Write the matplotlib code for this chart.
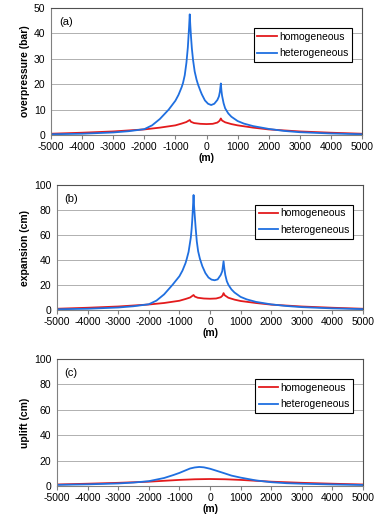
import numpy as np
import matplotlib
matplotlib.use("Agg")
import matplotlib.pyplot as plt

plt.rcParams["font.family"] = ["Liberation Sans", "DejaVu Sans"]
plt.rcParams["font.size"] = 7.5
plt.rcParams["axes.unicode_minus"] = False

# (a) overpressure (bar)
x_a = [-5000, -4000, -3000, -2500, -2000, -1750, -1500, -1216, -1000, -900, -800, -755, -700, -645,
       -600, -580, -560, -539, -520, -497, -470, -432, -380, -320, -270, -200, -150, -50, 50, 150,
       250, 350, 400, 430, 461, 480, 500, 550, 600, 700, 800, 1000, 1200, 1500, 2000, 2500, 3000,
       4000, 5000]
het_a = [0.3, 0.5, 1.0, 1.5, 2.3, 3.8, 6.3, 10.0, 13.5, 15.8, 18.8, 20.5, 23.5, 28.5,
         34.5, 38.5, 42.5, 47.5, 43.0, 38.5, 34.0, 29.5, 25.0, 21.8, 19.8, 17.5, 16.0, 13.6, 12.3, 11.8,
         12.3, 13.8, 15.2, 17.0, 20.3, 17.5, 15.5, 12.5, 10.5, 8.5, 7.2, 5.5, 4.5, 3.5, 2.4, 1.6, 1.1,
         0.6, 0.3]
xh_a = [-5000, -4000, -3000, -2000, -1500, -1000, -800, -650, -539, -500, -400, -200, 0, 200,
        350, 420, 461, 500, 600, 800, 1000, 1500, 2000, 3000, 4000, 5000]
hom_a = [0.5, 0.9, 1.4, 2.2, 2.9, 3.8, 4.5, 5.1, 5.9, 5.2, 4.7, 4.4, 4.3, 4.4,
         4.9, 5.6, 6.5, 5.7, 5.0, 4.3, 3.8, 2.9, 2.2, 1.4, 0.9, 0.5]

# (b) expansion (cm)
x_b = [-5000, -4000, -3000, -2500, -2000, -1750, -1500, -1230, -1000, -900, -800, -764, -700, -627,
       -600, -580, -560, -537, -520, -497, -470, -432, -388, -330, -250, -150, -50, 50, 152, 250,
       350, 400, 443, 470, 500, 550, 605, 700, 800, 1000, 1200, 1500, 2000, 2500, 3000, 4000, 5000]
het_b = [0.6, 1.0, 2.0, 3.0, 4.6, 7.5, 12.5, 20.0, 27.0, 31.5, 37.5, 40.5, 46.5, 58.0,
         65.0, 72.0, 81.0, 92.0, 83.0, 75.0, 66.0, 55.0, 47.0, 41.0, 35.0, 29.5, 26.0, 24.3, 23.8, 24.5,
         28.0, 31.0, 39.0, 33.0, 28.0, 23.0, 20.0, 16.5, 14.0, 10.5, 8.5, 6.5, 4.5, 3.2, 2.3, 1.3, 0.7]
xh_b = [-5000, -4000, -3000, -2000, -1500, -1000, -800, -650, -537, -500, -400, -200, 0, 200,
        350, 410, 443, 480, 600, 800, 1000, 1500, 2000, 3000, 4000, 5000]
hom_b = [1.0, 1.8, 2.8, 4.4, 5.6, 7.4, 8.8, 10.0, 12.0, 10.8, 9.8, 9.2, 9.0, 9.2,
         10.2, 11.5, 13.5, 11.8, 9.8, 8.3, 7.2, 5.6, 4.3, 2.8, 1.8, 1.0]

# (c) uplift (cm)
x_c = [-5000, -4000, -3000, -2500, -2000, -1500, -1200, -1000, -800, -650, -500, -350, -200, 0,
       200, 434, 700, 1000, 1500, 2000, 2500, 3000, 4000, 5000]
het_c = [0.9, 1.3, 2.0, 2.7, 3.8, 6.3, 8.6, 10.3, 12.3, 13.8, 14.6, 15.0, 14.7, 13.6,
         12.1, 10.3, 8.2, 6.6, 4.4, 3.0, 2.2, 1.8, 1.2, 0.8]
xh_c = [-5000, -4000, -3000, -2000, -1500, -1000, -500, 0, 500, 1000, 1500, 2000, 3000, 4000, 5000]
hom_c = [1.2, 1.8, 2.5, 3.4, 4.1, 4.8, 5.3, 5.5, 5.3, 4.8, 4.1, 3.4, 2.5, 1.8, 1.2]

panels = [
    ("(a)", "overpressure (bar)", 50, 10, x_a, het_a, xh_a, hom_a),
    ("(b)", "expansion (cm)", 100, 20, x_b, het_b, xh_b, hom_b),
    ("(c)", "uplift (cm)", 100, 20, x_c, het_c, xh_c, hom_c),
]
xticks = list(range(-5000, 5001, 1000))

fig = plt.figure(figsize=(3.74, 5.25), dpi=100)
W, H = 374, 525
boxes = [(51, 8, 362, 135), (57, 185, 363, 310), (57, 359, 363, 486)]

for (lab, ylab, ymax, ystep, xh, yh, xm, ym), (l, t, r, b) in zip(panels, boxes):
    ax = fig.add_axes([l / W, 1 - b / H, (r - l) / W, (b - t) / H])
    ax.plot(xm, ym, color="#e31a1c", lw=1.3, label="homogeneous")
    ax.plot(xh, yh, color="#1f6fe0", lw=1.3, label="heterogeneous")
    ax.set_xlim(-5000, 5000)
    ax.set_ylim(0, ymax)
    ax.set_xticks(xticks)
    ax.set_yticks(np.arange(0, ymax + 1, ystep))
    ax.yaxis.grid(True, color="#b0b0b0", lw=0.7)
    ax.set_axisbelow(True)
    ax.tick_params(axis="y", length=0, pad=4)
    ax.tick_params(axis="x", length=3, color="#808080", pad=2)
    for s in ("left", "bottom"):
        ax.spines[s].set_color("#808080")
    for s in ("top", "right"):
        ax.spines[s].set_color("#505050")
    ax.set_ylabel(ylab, fontweight="bold", labelpad=3)
    ax.set_xlabel("(m)", fontweight="bold", labelpad=1)
    ax.text(0.025, 0.93, lab, transform=ax.transAxes, fontsize=8, va="top")
    leg = ax.legend(loc="upper right", bbox_to_anchor=(0.968, 0.843), borderaxespad=0,
                    fancybox=False, edgecolor="black", framealpha=1, handlelength=1.9,
                    handletextpad=0.15, borderpad=0.37, labelspacing=0.63, fontsize=7.5)
    leg.get_frame().set_linewidth(0.8)

fig.savefig("out.png", dpi=100)
